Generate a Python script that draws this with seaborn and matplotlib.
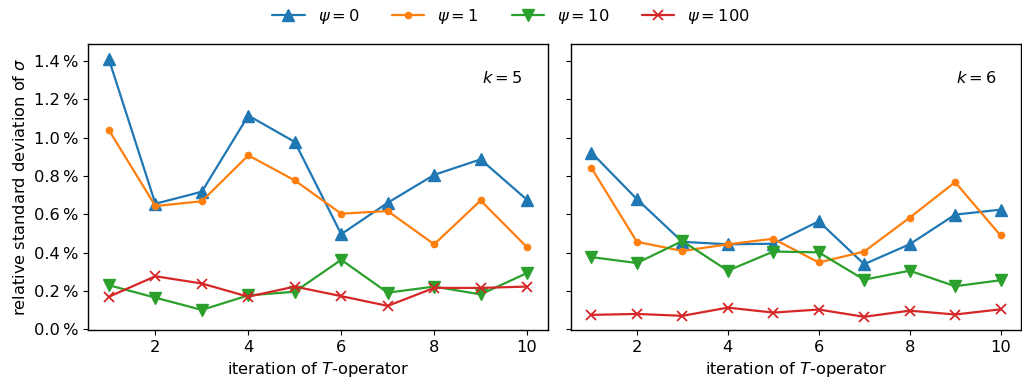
import numpy as np
import pandas as pd
import matplotlib
matplotlib.use("Agg")
import matplotlib.pyplot as plt
import seaborn as sns
from matplotlib.ticker import FuncFormatter

iterations = [1, 2, 3, 4, 5, 6, 7, 8, 9, 10]
labels = [r"$\psi = 0$", r"$\psi = 1$", r"$\psi = 10$", r"$\psi = 100$"]

k5_psi0 = [1.41, 0.655, 0.718, 1.116, 0.978, 0.496, 0.66, 0.806, 0.887, 0.675]
k5_psi1 = [1.04, 0.643, 0.668, 0.908, 0.777, 0.603, 0.617, 0.443, 0.672, 0.427]
k5_psi10 = [0.229, 0.164, 0.10, 0.176, 0.195, 0.362, 0.19, 0.222, 0.181, 0.293]
k5_psi100 = [0.169, 0.276, 0.238, 0.169, 0.222, 0.172, 0.121, 0.215, 0.215, 0.222]

k6_psi0 = [0.922, 0.679, 0.456, 0.443, 0.446, 0.563, 0.339, 0.443, 0.598, 0.624]
k6_psi1 = [0.842, 0.456, 0.408, 0.443, 0.472, 0.348, 0.405, 0.582, 0.768, 0.489]
k6_psi10 = [0.376, 0.345, 0.46, 0.305, 0.405, 0.401, 0.258, 0.305, 0.224, 0.255]
k6_psi100 = [0.074, 0.079, 0.069, 0.112, 0.086, 0.102, 0.064, 0.096, 0.076, 0.103]

panels = {
    5: [k5_psi0, k5_psi1, k5_psi10, k5_psi100],
    6: [k6_psi0, k6_psi1, k6_psi10, k6_psi100],
}

colors = ["#1f77b4", "#ff7f0e", "#2ca02c", "#d62728"]
markers = ["^", "o", "v", "x"]
msizes = [8, 4.5, 8, 7]

sns.set_style("ticks", {"axes.edgecolor": "black", "text.color": "black",
                        "axes.labelcolor": "black", "xtick.color": "black",
                        "ytick.color": "black"})
plt.rcParams["font.family"] = ["DejaVu Sans"]
FS = 11.7
plt.rcParams["font.size"] = FS

fig = plt.figure(figsize=(10.22, 3.83), dpi=100)
ax1 = fig.add_axes([88 / 1022, 1 - 330 / 383, 460 / 1022, 286 / 383])
ax2 = fig.add_axes([571 / 1022, 1 - 330 / 383, 450 / 1022, 286 / 383], sharey=ax1)

for ax, k in [(ax1, 5), (ax2, 6)]:
    for vals, lab, c, m, ms in zip(panels[k], labels, colors, markers, msizes):
        df = pd.DataFrame({"iteration": iterations, "value": vals})
        sns.lineplot(data=df, x="iteration", y="value", ax=ax, color=c,
                     marker=m, markersize=ms, markeredgecolor=c,
                     markeredgewidth=1.3 if m == "x" else 1.0,
                     linewidth=1.6, label=lab, legend=False)
    ax.set_xlabel(r"iteration of $T$-operator", fontsize=FS, color="black")
    ax.set_ylabel("")
    ax.set_xticks([2, 4, 6, 8, 10])
    ax.text(0.945, 0.88, rf"$k = {k}$", transform=ax.transAxes,
            ha="right", va="center", fontsize=FS, color="black")
    for s in ax.spines.values():
        s.set_visible(True)
        s.set_linewidth(1.0)
        s.set_color("black")
    ax.tick_params(labelsize=FS, colors="black")

ax1.set_ylim(-0.005, 1.49)
ax1.set_yticks([0.0, 0.2, 0.4, 0.6, 0.8, 1.0, 1.2, 1.4])
ax1.yaxis.set_major_formatter(FuncFormatter(lambda v, p: f"{v:.1f}\u2009%"))
ax1.set_ylabel(r"relative standard deviation of $\sigma$", fontsize=FS, color="black")
plt.setp(ax2.get_yticklabels(), visible=False)

handles, labs = ax1.get_legend_handles_labels()
leg = fig.legend(handles, labs, loc="upper center", ncol=4, frameon=False,
                 bbox_to_anchor=(0.5, 1.02), fontsize=FS, columnspacing=2.0)
for t in leg.get_texts():
    t.set_color("black")

fig.savefig("out.png", dpi=100)
